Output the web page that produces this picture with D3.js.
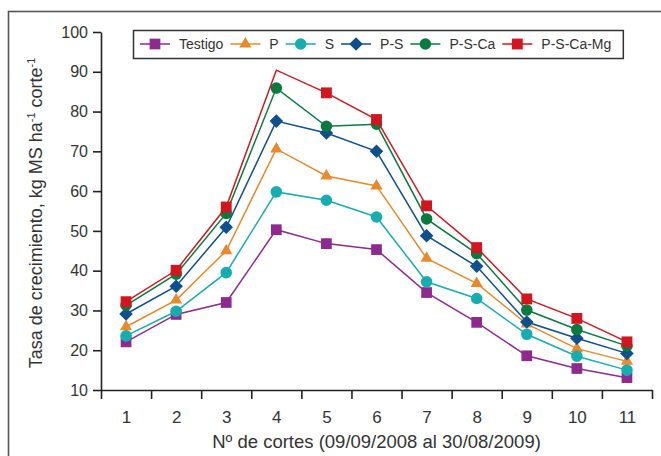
<!doctype html>
<html>
<head>
<meta charset="utf-8">
<style>
body { margin: 0; background: #fff; }
svg { display: block; font-family: "Liberation Sans", Arial, sans-serif; }
.axis path, .axis line { stroke: #222; stroke-width: 1.6; }
.axis text { fill: #333; }
.legend text { fill: #333; font-size: 14px; }
</style>
</head>
<body>
<div id="chart"></div>
<script src="https://cdn.jsdelivr.net/npm/d3@7/dist/d3.min.js"></script>
<script>
// data
var cortes = [1, 2, 3, 4, 5, 6, 7, 8, 9, 10, 11];
var seriesNames = ['Testigo', 'P', 'S', 'P-S', 'P-S-Ca', 'P-S-Ca-Mg'];
var testigo = [22.1, 29.0, 32.0, 50.3, 46.8, 45.3, 34.5, 27.0, 18.6, 15.4, 13.1];
var p       = [25.9, 32.6, 45.0, 70.6, 63.8, 61.3, 43.1, 36.8, 26.6, 20.4, 17.2];
var s       = [23.6, 29.8, 39.5, 59.8, 57.7, 53.5, 37.2, 33.0, 24.0, 18.5, 15.0];
var ps      = [29.1, 36.1, 50.9, 77.6, 74.6, 70.0, 48.8, 41.1, 27.1, 23.0, 19.2];
var psca    = [31.3, 39.1, 54.4, 85.9, 76.3, 76.8, 53.0, 44.3, 30.1, 25.2, 21.1];
var pscamg  = [32.2, 40.1, 56.0, 90.4, 84.7, 78.0, 56.3, 45.8, 32.9, 28.0, 22.1];
var yTicks = [10, 20, 30, 40, 50, 60, 70, 80, 90, 100];
// the red series has no marker drawn on cut 4 in the original
var hiddenMarkers = { 'P-S-Ca-Mg': [4] };
</script>
<script>
var width = 661, height = 456;
var colors = ['#8e2a8f', '#e8892b', '#17adb0', '#0e4f8c', '#0b7a3e', '#d2161f'];
var values = [testigo, p, s, ps, psca, pscamg];

// symbol type, size (area) and rotation per series
var shapes = [
    { type: d3.symbolSquare, size: 115, rot: 0 },
    { type: d3.symbolTriangle, size: 64, rot: 0 },
    { type: d3.symbolCircle, size: 105, rot: 0 },
    { type: d3.symbolSquare, size: 92, rot: 45 },
    { type: d3.symbolCircle, size: 105, rot: 0 },
    { type: d3.symbolSquare, size: 118, rot: 0 }
];

var series = seriesNames.map(function (name, i) {
    return {
        name: name,
        color: colors[i],
        shape: shapes[i],
        points: cortes.map(function (c, j) { return { corte: c, value: values[i][j] }; })
    };
});

var svg = d3.select('#chart').append('svg')
    .attr('width', width)
    .attr('height', height);

// outer frame (cut off at right and bottom)
svg.append('rect')
    .attr('x', 8.5).attr('y', 11.5)
    .attr('width', 700).attr('height', 500)
    .attr('fill', 'none')
    .attr('stroke', '#555')
    .attr('stroke-width', 1.6);

var x = d3.scaleLinear().domain([0.5, 11.5]).range([101, 652]);
var y = d3.scaleLinear().domain([10, 100]).range([390, 32]);

// x axis: ticks between cuts, labels on the cuts
svg.append('g')
    .attr('class', 'axis')
    .attr('transform', 'translate(0,390)')
    .call(d3.axisBottom(x)
        .tickValues(d3.range(0.5, 12, 1))
        .tickFormat('')
        .tickSizeInner(9)
        .tickSizeOuter(0));

var xl = svg.append('g')
    .attr('class', 'axis')
    .attr('transform', 'translate(0,390)')
    .call(d3.axisBottom(x).tickValues(cortes).tickSize(0).tickPadding(21));
xl.select('.domain').remove();
xl.selectAll('text').style('font-size', '17px');

var yl = svg.append('g')
    .attr('class', 'axis')
    .attr('transform', 'translate(101,0)')
    .call(d3.axisLeft(y).tickValues(yTicks).tickSizeInner(8).tickSizeOuter(0).tickPadding(5));
yl.selectAll('text').style('font-size', '16px');

// axis titles
svg.append('text')
    .attr('x', x(6))
    .attr('y', 448)
    .attr('text-anchor', 'middle')
    .attr('fill', '#333')
    .style('font-size', '18.5px')
    .text('Nº de cortes (09/09/2008 al 30/08/2009)');

var yt = svg.append('text')
    .attr('transform', 'translate(42,' + ((y(10) + y(100)) / 2 + 2) + ') rotate(-90)')
    .attr('text-anchor', 'middle')
    .attr('fill', '#333')
    .style('font-size', '18px');
yt.append('tspan').text('Tasa de crecimiento, kg MS ha');
yt.append('tspan').attr('dy', -7).style('font-size', '11px').text('-1');
yt.append('tspan').attr('dy', 7).text(' corte');
yt.append('tspan').attr('dy', -7).style('font-size', '11px').text('-1');

// lines and markers
var line = d3.line()
    .x(function (d) { return x(d.corte); })
    .y(function (d) { return y(d.value); });

function symbolPath(shape) {
    return d3.symbol().type(shape.type).size(shape.size)();
}

series.forEach(function (sr) {
    var g = svg.append('g').attr('class', 'series');
    g.append('path')
        .datum(sr.points)
        .attr('fill', 'none')
        .attr('stroke', sr.color)
        .attr('stroke-width', 1.5)
        .attr('d', line);
    var hidden = hiddenMarkers[sr.name] || [];
    g.selectAll('path.marker')
        .data(sr.points.filter(function (d) { return hidden.indexOf(d.corte) < 0; }))
        .enter().append('path')
        .attr('class', 'marker')
        .attr('fill', sr.color)
        .attr('d', symbolPath(sr.shape))
        .attr('transform', function (d) {
            return 'translate(' + x(d.corte) + ',' + y(d.value) + ') rotate(' + sr.shape.rot + ')';
        });
});

// legend
var legend = svg.append('g').attr('class', 'legend');
var box = legend.append('rect')
    .attr('x', 133.5).attr('y', 30.5)
    .attr('height', 28)
    .attr('fill', '#fff')
    .attr('stroke', '#333')
    .attr('stroke-width', 1.5);

var lx = 140, ly = 44;
series.forEach(function (sr) {
    legend.append('line')
        .attr('x1', lx).attr('x2', lx + 30)
        .attr('y1', ly).attr('y2', ly)
        .attr('stroke', sr.color)
        .attr('stroke-width', 1.5);
    legend.append('path')
        .attr('fill', sr.color)
        .attr('d', symbolPath(sr.shape))
        .attr('transform', 'translate(' + (lx + 15) + ',' + ly + ') rotate(' + sr.shape.rot + ')');
    var t = legend.append('text')
        .attr('x', lx + 39)
        .attr('y', ly + 5)
        .text(sr.name);
    lx = lx + 39 + t.node().getComputedTextLength() + 7;
});
box.attr('width', lx + 5 - 133.5);
</script>
</body>
</html>
